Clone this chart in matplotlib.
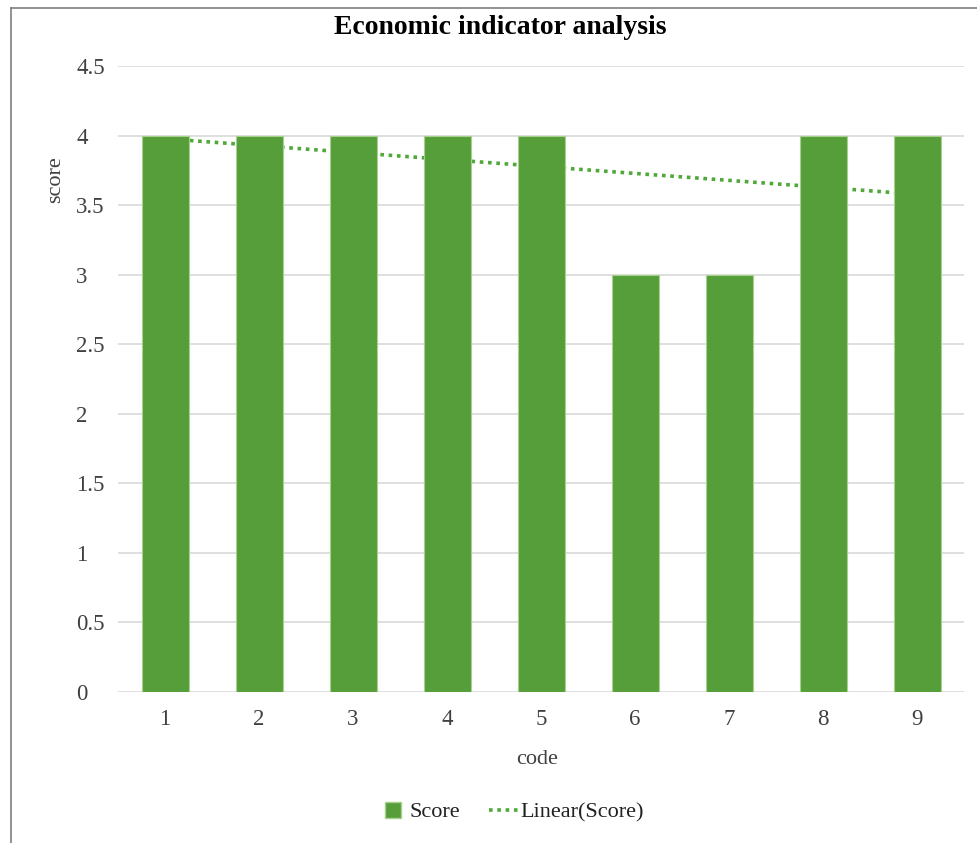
import matplotlib.pyplot as plt
from matplotlib.lines import Line2D
import numpy as np

plt.rcParams['font.family'] = ['Liberation Serif', 'DejaVu Serif']

# data
codes = [1, 2, 3, 4, 5, 6, 7, 8, 9]
scores = [4, 4, 4, 4, 4, 3, 3, 4, 4]
yticks = [0, 0.5, 1, 1.5, 2, 2.5, 3, 3.5, 4, 4.5]

bar_color = '#559e3a'
trend_color = '#4fa838'
txt = '#404040'

fig = plt.figure(figsize=(9.77, 8.43), dpi=100)
ax = fig.add_axes([118 / 977, 1 - 692 / 843, 846 / 977, 626 / 843])

x = np.arange(len(codes))
ax.bar(x, scores, width=0.5, color=bar_color, edgecolor='#a9d18e', linewidth=0.8,
       zorder=3)

# linear trendline (sits behind the bars)
k, b = np.polyfit(codes, scores, 1)
trend = [k * c + b for c in codes]
ax.plot(x, trend, color=trend_color, linewidth=2.6, linestyle=(0, (1, 1.3)),
        zorder=2)

ax.set_xlim(-0.5, len(codes) - 0.5)
ax.set_ylim(0, 4.5)
ax.set_yticks(yticks)
ax.set_yticklabels(['%g' % t for t in yticks])
ax.set_xticks(x)
ax.set_xticklabels([str(c) for c in codes])
ax.tick_params(length=0, labelsize=16.5, colors=txt)
ax.tick_params(axis='y', pad=30)
for lab in ax.get_yticklabels():
    lab.set_horizontalalignment('left')
ax.tick_params(axis='x', pad=12)
ax.grid(axis='y', color='#d9d9d9', linewidth=1.2, zorder=0)
for s in ax.spines.values():
    s.set_visible(False)

fig.text(500 / 977, 1 - 27 / 843, 'Economic indicator analysis', ha='center', va='center',
         fontsize=20, fontweight='bold')
fig.text(56 / 977, 1 - 180 / 843, 'score', rotation=90, ha='center', va='center',
         fontsize=16, color=txt)
fig.text(537 / 977, 1 - 760 / 843, 'code', ha='center', va='center',
         fontsize=16, color=txt)

handles = [
    Line2D([], [], marker='s', linestyle='none', markersize=12, color=bar_color,
           markeredgecolor='#a9d18e'),
    Line2D([], [], color=trend_color, linewidth=2.6, linestyle=(0, (1, 1.3))),
]
fig.legend(handles, ['Score', 'Linear(Score)'], loc='center',
           bbox_to_anchor=(511 / 977, 1 - 812 / 843), ncol=2,
           frameon=False, fontsize=16, handlelength=1.3, handletextpad=0.1,
           columnspacing=1.3, labelcolor='#222222')

# frame lines (left and top)
fig.add_artist(Line2D([11 / 977, 11 / 977], [0, 1 - 8 / 843], color='#7f7f7f',
                      linewidth=1.2, transform=fig.transFigure))
fig.add_artist(Line2D([11 / 977, 1], [1 - 8 / 843, 1 - 8 / 843], color='#7f7f7f',
                      linewidth=1.2, transform=fig.transFigure))

fig.savefig('out.png', dpi=100)
